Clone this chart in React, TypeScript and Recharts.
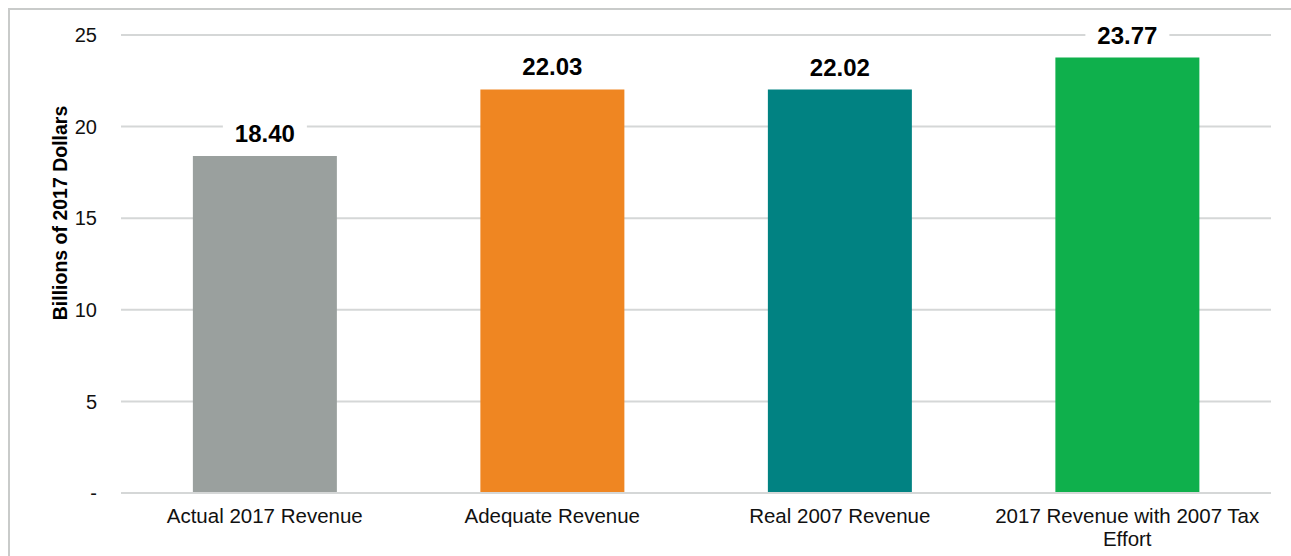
import { BarChart, Bar, XAxis, YAxis, CartesianGrid, Cell, LabelList } from "recharts"

const categories = [
  "Actual 2017 Revenue",
  "Adequate Revenue",
  "Real 2007 Revenue",
  "2017 Revenue with 2007 Tax Effort",
]
const revenue = [18.4, 22.03, 22.02, 23.77]
const barColors = ["#9aa09e", "#ef8622", "#018282", "#0fb04c"]
const yTicks = [0, 5, 10, 15, 20, 25]

const FONT = '"Liberation Sans", Arial, Helvetica, sans-serif'

const data = categories.map((name, i) => ({ name, value: revenue[i] }))

// split long category names into lines of at most ~28 characters
function wrap(label: string, max = 28) {
  const lines: string[] = []
  let cur = ""
  for (const word of label.split(" ")) {
    const next = cur ? cur + " " + word : word
    if (next.length > max && cur) {
      lines.push(cur)
      cur = word
    } else {
      cur = next
    }
  }
  if (cur) lines.push(cur)
  return lines
}

const CategoryTick = (props: any) => {
  const { x, y, payload } = props
  const lines = wrap(payload.value)
  return (
    <text x={x} y={y} textAnchor="middle" fontSize={20.5} fill="#111" fontFamily={FONT}>
      {lines.map((line, i) => (
        <tspan key={i} x={x} dy={i === 0 ? "0.71em" : 23}>
          {line}
        </tspan>
      ))}
    </text>
  )
}

const ValueLabel = (props: any) => {
  const { x, y, width, value } = props
  const cx = x + width / 2
  return (
    <g>
      <rect x={cx - 42} y={y - 42} width={84} height={34} fill="#fff" />
      <text x={cx} y={y - 14} textAnchor="middle" fontSize={24} fontWeight="bold" fill="#000" fontFamily={FONT}>
        {Number(value).toFixed(2)}
      </text>
    </g>
  )
}

const AxisTitle = (props: any) => {
  const { viewBox } = props
  const x = viewBox.x + 50
  const y = viewBox.y + viewBox.height / 2 - 51
  return (
    <text
      x={x}
      y={y}
      transform={`rotate(-90, ${x}, ${y})`}
      textAnchor="middle"
      dominantBaseline="central"
      fontSize={19.5}
      fontWeight="bold"
      fill="#000"
      fontFamily={FONT}
    >
      Billions of 2017 Dollars
    </text>
  )
}

export default function App() {
  return (
    <div
      style={{
        position: "fixed",
        left: 8,
        top: 8,
        width: 1300,
        height: 560,
        boxSizing: "border-box",
        borderTop: "2px solid #c9cbca",
        borderLeft: "2px solid #c9cbca",
        background: "#fff",
        overflow: "hidden",
      }}
    >
      <BarChart
        width={1281}
        height={546}
        data={data}
        margin={{ top: 25, right: 20, bottom: 0, left: 0 }}
        barCategoryGap="25%"
      >
        <CartesianGrid vertical={false} stroke="#d5d7d7" strokeWidth={2} />
        <XAxis
          dataKey="name"
          height={63}
          interval={0}
          tickLine={false}
          tickSize={0}
          tickMargin={15}
          axisLine={{ stroke: "#d5d7d7", strokeWidth: 2 }}
          tick={<CategoryTick />}
        />
        <YAxis
          width={111}
          domain={[0, 25]}
          ticks={yTicks}
          interval={0}
          axisLine={false}
          tickLine={false}
          tickSize={0}
          tickMargin={24}
          tick={{ fontSize: 20, fill: "#111", fontFamily: FONT }}
          tickFormatter={(v: number) => (v === 0 ? "-" : String(v))}
          label={<AxisTitle />}
        />
        <Bar dataKey="value" isAnimationActive={false}>
          {data.map((_, i) => (
            <Cell key={i} fill={barColors[i]} />
          ))}
          <LabelList dataKey="value" content={<ValueLabel />} />
        </Bar>
      </BarChart>
    </div>
  )
}
